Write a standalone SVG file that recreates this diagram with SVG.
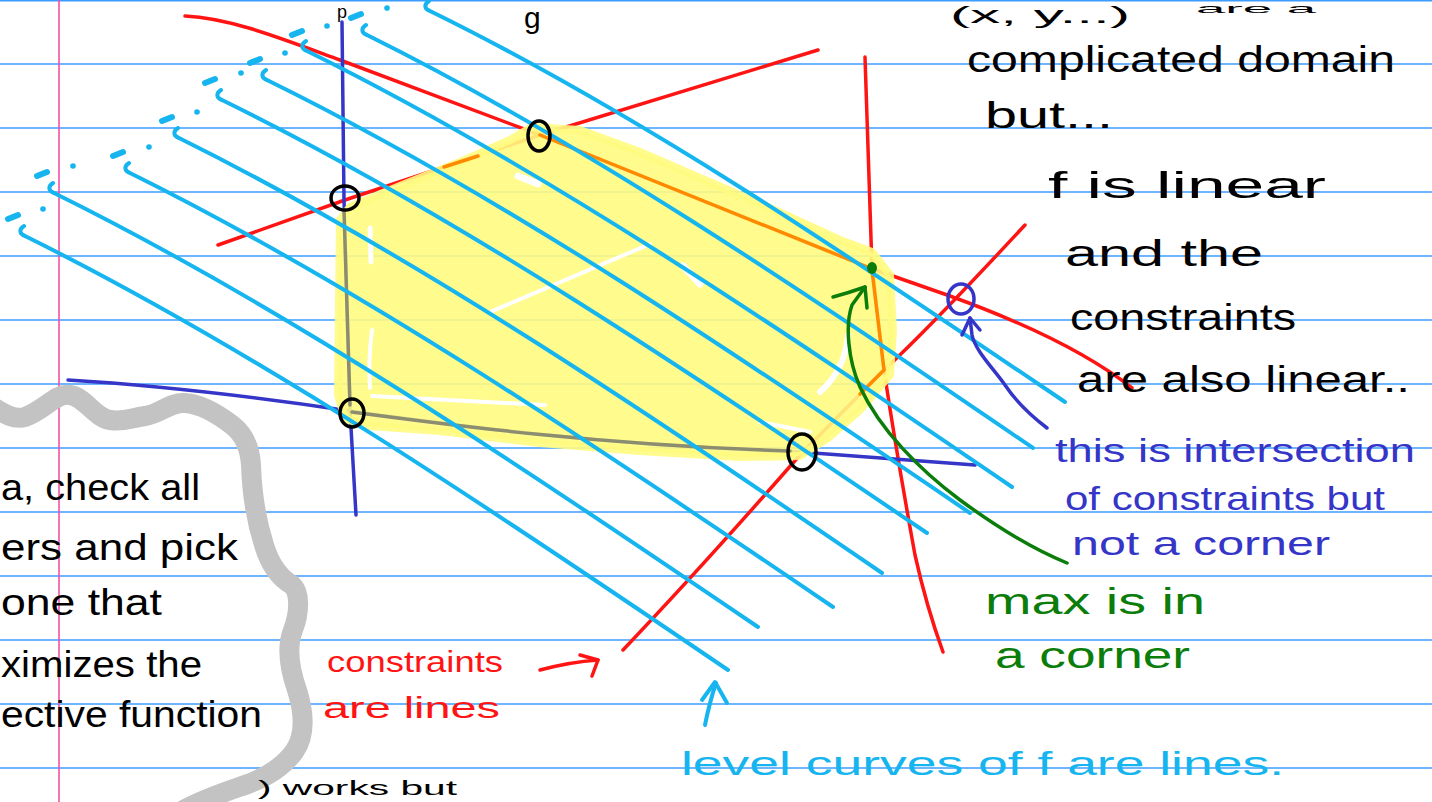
<svg xmlns="http://www.w3.org/2000/svg" width="1432" height="802" viewBox="0 0 1432 802">
<defs>
<style>
.rule{stroke:#3d9cff;stroke-width:1.6}
.lvl{fill:none;stroke:#16b5ef;stroke-width:4;stroke-linecap:round;stroke-linejoin:round}
.dash{fill:none;stroke:#16b5ef;stroke-width:6;stroke-linecap:round}
.dot{fill:#16b5ef}
.red{fill:none;stroke:#ff1414;stroke-width:3.5;stroke-linecap:round;stroke-linejoin:round}
.org{fill:none;stroke:#ff8a00;stroke-width:3.5;stroke-linecap:round}
.blu{fill:none;stroke:#3535c8;stroke-width:3.5;stroke-linecap:round;stroke-linejoin:round}
.gry{fill:none;stroke:#8c8c70;stroke-width:3.5;stroke-linecap:round}
.grn{fill:none;stroke:#0a7d0a;stroke-width:3.5;stroke-linecap:round;stroke-linejoin:round}
.ring{fill:none;stroke:#000;stroke-width:3.5}
.gap{fill:none;stroke:#fff;stroke-linecap:round}
text{font-family:"Liberation Sans","DejaVu Sans",sans-serif}
.k{fill:#000;font-size:36px}
.b{fill:#3535c8;font-size:33px}
.g{fill:#0a7d0a;font-size:36px}
.r{fill:#ff1414;font-size:30px}
.c{fill:#16b5ef;font-size:34px}
</style>
</defs>
<rect width="1432" height="802" fill="#fff"/>
<g id="paper">
<line class="rule" x1="0" y1="0.8" x2="1432" y2="0.8"/>
<line class="rule" x1="0" y1="64" x2="1432" y2="64"/>
<line class="rule" x1="0" y1="128" x2="1432" y2="128"/>
<line class="rule" x1="0" y1="192" x2="1432" y2="192"/>
<line class="rule" x1="0" y1="256" x2="1432" y2="256"/>
<line class="rule" x1="0" y1="320" x2="1432" y2="320"/>
<line class="rule" x1="0" y1="384" x2="1432" y2="384"/>
<line class="rule" x1="0" y1="448" x2="1432" y2="448"/>
<line class="rule" x1="0" y1="512" x2="1432" y2="512"/>
<line class="rule" x1="0" y1="576" x2="1432" y2="576"/>
<line class="rule" x1="0" y1="640" x2="1432" y2="640"/>
<line class="rule" x1="0" y1="704" x2="1432" y2="704"/>
<line class="rule" x1="0" y1="768" x2="1432" y2="768"/>
<line x1="59" y1="0" x2="59" y2="802" stroke="#f350a6" stroke-width="1.6"/>
</g>
<g id="cloud">
<path d="M -10,405 C 5,415 15,420 25,417 C 45,410 55,393 70,395 C 85,397 95,418 110,420 C 125,422 130,418 145,416 C 160,414 170,402 185,403 C 200,404 215,412 232,425 C 245,435 250,448 251,465 C 252,495 256,520 264,545 C 270,565 280,578 292,585 C 300,592 300,612 293,630 C 286,648 290,670 297,690 C 304,712 306,735 294,752 C 282,768 265,778 245,785 C 225,792 200,800 180,812" fill="none" stroke="#c3c3c3" stroke-width="20" stroke-linecap="round" stroke-linejoin="round"/>
</g>
<g id="constraints">
<path class="red" d="M 185,16 C 230,18 280,38 340,60 L 540,135 L 870,268 L 950,296 C 1030,325 1090,355 1132,388"/>
<path class="red" d="M 218,245 L 345,200 L 540,135 L 818,50"/>
<path class="red" d="M 865,57 C 868,150 870,220 872,268 L 884,370 C 893,430 905,500 915,555 C 925,600 935,630 943,652"/>
<path class="red" d="M 623,650 C 680,590 730,535 800,455 L 884,370 C 920,337 960,295 1025,225"/>
<path class="blu" d="M 342,22 L 344,200 L 350,410 L 356,515"/>
<path class="blu" d="M 68,380 C 150,385 250,396 350,411 C 450,425 600,445 800,452 C 880,458 930,462 975,465"/>
</g>
<g id="feasible-region">
<path d="M 532,127 L 580,130 L 640,152 L 700,178 L 770,208 L 840,240 L 872,252 L 890,275 L 893,330 L 890,375 L 860,410 L 828,438 L 800,456 L 740,457 L 640,451 L 540,443 L 440,431 L 370,426 L 345,419 L 338,395 L 339,300 L 340,220 L 350,207 L 400,186 L 460,162 L 510,140 Z" fill="#fffb80" fill-opacity="0.9" stroke="#fffb80" stroke-opacity="0.9" stroke-width="8" stroke-linejoin="round"/>
<path class="gap" stroke-width="5" d="M 370,228 L 371,262"/>
<path class="gap" stroke-width="4" d="M 372,330 Q 368,360 370,388"/>
<path class="gap" stroke-width="4" d="M 372,396 Q 450,400 545,405"/>
<path class="gap" stroke-width="4" d="M 490,312 L 650,244"/>
<path class="gap" stroke-width="7" d="M 518,176 L 538,184"/>
<path class="gap" stroke-width="7" d="M 683,266 L 700,284"/>
<path class="gap" stroke-width="6" d="M 848,335 Q 845,370 820,392"/>
<path class="gap" stroke-width="4" d="M 760,422 L 810,432"/>
<path class="org" d="M 540,135 L 870,268"/>
<path class="org" d="M 444,167 L 478,156"/>
<path class="org" d="M 872,270 L 884,370"/>
<path class="org" d="M 860,394 L 884,370"/>
<path class="gry" d="M 344,210 L 350,405"/>
<path class="gry" d="M 352,412 C 450,425 600,445 790,451"/>
</g>
<g id="level-curves">
<path class="lvl" d="M 24,226 C 19,229 19,234 25,236 C 259,352 494,511 728,670"/>
<path class="lvl" d="M 53,183 C 48,186 48,191 54,193 C 289,309 523,468 758,627"/>
<path class="lvl" d="M 129,163 C 124,166 124,171 130,173 C 364,289 599,448 833,607"/>
<path class="lvl" d="M 178,128 C 173,131 173,136 179,138 C 413,254 648,413 882,573"/>
<path class="lvl" d="M 221,90 C 216,93 216,98 222,100 C 457,215 692,374 927,533"/>
<path class="lvl" d="M 266,70 C 261,73 261,78 267,80 C 501,195 736,354 970,513"/>
<path class="lvl" d="M 306,41 C 301,44 301,49 307,51 C 542,167 777,327 1012,487"/>
<path class="lvl" d="M 366,25 C 361,28 361,33 367,35 C 589,145 811,297 1033,448"/>
<path class="lvl" d="M 429,1 C 424,4 424,9 430,11 C 642,115 853,259 1065,402"/>
<path class="dash" d="M 351,18 L 361,14"/><circle class="dot" cx="387" cy="8" r="2.8"/>
<path class="dash" d="M 292,35 L 302,31"/><circle class="dot" cx="327" cy="26" r="2.8"/>
<path class="dash" d="M 250,63 L 260,59"/><circle class="dot" cx="285" cy="53" r="2.8"/>
<path class="dash" d="M 205,83 L 215,79"/><circle class="dot" cx="241" cy="73" r="2.8"/>
<path class="dash" d="M 162,121 L 172,117"/><circle class="dot" cx="197" cy="112" r="2.8"/>
<path class="dash" d="M 113,156 L 123,152"/><circle class="dot" cx="149" cy="147" r="2.8"/>
<path class="dash" d="M 37,176 L 47,172"/><circle class="dot" cx="73" cy="166" r="2.8"/>
<path class="dash" d="M 8,219 L 18,215"/><circle class="dot" cx="43" cy="209" r="2.8"/>
</g>
<g id="corners">
<ellipse class="ring" cx="345" cy="198" rx="14" ry="12"/>
<ellipse class="ring" cx="539" cy="136" rx="11" ry="15"/>
<ellipse class="ring" cx="352" cy="413" rx="12" ry="14"/>
<ellipse class="ring" cx="802" cy="452" rx="14" ry="18"/>
<ellipse cx="872" cy="268" rx="5" ry="6" fill="#0a7d0a"/>
<ellipse cx="961" cy="299" rx="13" ry="15" fill="none" stroke="#3535c8" stroke-width="3.5"/>
</g>
<g id="connectors">
<path class="grn" d="M 1067,563 C 1030,548 990,522 960,500 C 920,470 880,430 860,387 C 848,360 845,325 852,305 L 865,287"/>
<path class="grn" d="M 833,297 Q 848,293 865,287 L 867,308"/>
<path class="blu" d="M 1047,428 C 1030,415 1015,400 1005,385 C 992,367 975,350 972,335 L 970,318"/>
<path class="blu" d="M 962,335 L 970,318 L 980,330"/>
<path class="red" d="M 540,670 Q 570,662 598,660"/>
<path class="red" d="M 580,655 L 598,660 L 592,676"/>
<path class="lvl" d="M 705,725 C 708,710 712,695 716,683"/>
<path class="lvl" d="M 702,700 L 715,682 L 727,703"/>
</g>
<g id="labels">
<text class="k" x="337" y="18" style="font-size:18px">p</text>
<text class="k" x="524" y="28" style="font-size:30px">g</text>
<text class="k" x="950" y="23" style="font-size:24px" textLength="180" lengthAdjust="spacingAndGlyphs">(x, y...)</text>
<text class="k" x="1196" y="13" style="font-size:13px" textLength="120" lengthAdjust="spacingAndGlyphs">are a</text>
<text class="k" x="967" y="72" textLength="428" lengthAdjust="spacingAndGlyphs">complicated domain</text>
<text class="k" x="985" y="128" textLength="128" lengthAdjust="spacingAndGlyphs">but...</text>
<text class="k" x="1048" y="198" textLength="278" lengthAdjust="spacingAndGlyphs">f is linear</text>
<text class="k" x="1065" y="266" textLength="198" lengthAdjust="spacingAndGlyphs">and the</text>
<text class="k" x="1070" y="330" textLength="226" lengthAdjust="spacingAndGlyphs">constraints</text>
<text class="k" x="1077" y="392" textLength="333" lengthAdjust="spacingAndGlyphs">are also linear..</text>
<text class="b" x="1055" y="462" textLength="360" lengthAdjust="spacingAndGlyphs">this is intersection</text>
<text class="b" x="1065" y="510" textLength="320" lengthAdjust="spacingAndGlyphs">of constraints but</text>
<text class="b" x="1072" y="555" textLength="258" lengthAdjust="spacingAndGlyphs">not a corner</text>
<text class="g" x="985" y="614" textLength="220" lengthAdjust="spacingAndGlyphs">max is in</text>
<text class="g" x="995" y="668" textLength="195" lengthAdjust="spacingAndGlyphs">a corner</text>
<text class="r" x="327" y="672" textLength="176" lengthAdjust="spacingAndGlyphs">constraints</text>
<text class="r" x="323" y="718" textLength="177" lengthAdjust="spacingAndGlyphs">are lines</text>
<text class="c" x="681" y="775" textLength="603" lengthAdjust="spacingAndGlyphs">level curves of f are lines.</text>
<text class="k" x="1" y="500" textLength="199" lengthAdjust="spacingAndGlyphs">a, check all</text>
<text class="k" x="1" y="560" textLength="237" lengthAdjust="spacingAndGlyphs">ers and pick</text>
<text class="k" x="1" y="615" textLength="161" lengthAdjust="spacingAndGlyphs">one that</text>
<text class="k" x="1" y="677" textLength="201" lengthAdjust="spacingAndGlyphs">ximizes the</text>
<text class="k" x="1" y="727" textLength="261" lengthAdjust="spacingAndGlyphs">ective function</text>
<text class="k" x="258" y="795" style="font-size:20px" textLength="199" lengthAdjust="spacingAndGlyphs">) works but</text>
</g>
</svg>
